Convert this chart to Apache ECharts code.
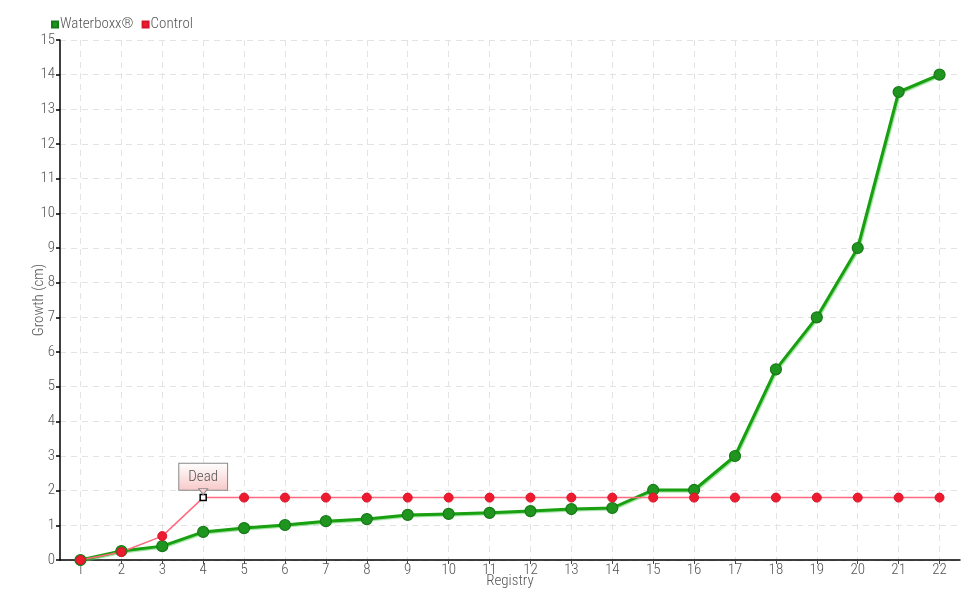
<!DOCTYPE html>
<html><head><meta charset="utf-8">
<script src="https://cdn.jsdelivr.net/npm/echarts@6/dist/echarts.min.js"></script>
<style>html,body{margin:0;padding:0;background:#fff}#c{width:980px;height:600px}</style>
</head><body><div id="c"></div>
<script>
const categories = ['1','2','3','4','5','6','7','8','9','10','11','12','13','14','15','16','17','18','19','20','21','22'];
const waterboxx = [0, 0.26, 0.4, 0.81, 0.92, 1.01, 1.12, 1.18, 1.3, 1.33, 1.36, 1.41, 1.47, 1.5, 2.02, 2.02, 3.0, 5.5, 7.0, 9.0, 13.5, 14.0];
const control = [0, 0.23, 0.69, 1.8, 1.8, 1.8, 1.8, 1.8, 1.8, 1.8, 1.8, 1.8, 1.8, 1.8, 1.8, 1.8, 1.8, 1.8, 1.8, 1.8, 1.8, 1.8];
const deadIndex = 3;
const deadLabel = 'Dead';

const FONT = '"Roboto Condensed", "DejaVu Sans Condensed", sans-serif';
const FW = 300;
const TXT = '#555';
const chart = echarts.init(document.getElementById('c'), null, {renderer: 'canvas'});

const controlData = control.map((v, i) => i === deadIndex ? {
  value: v,
  symbol: 'rect', symbolSize: 6,
  itemStyle: {color: '#fff', borderColor: '#000', borderWidth: 1.5},
  label: {
    show: true, position: 'top', distance: 4, formatter: deadLabel,
    color: TXT, fontFamily: FONT, fontWeight: FW, fontSize: 15,
    padding: [6, 9, 5, 9],
    borderColor: '#888', borderWidth: 1,
    backgroundColor: new echarts.graphic.LinearGradient(0, 0, 0, 1, [
      {offset: 0, color: '#ffffff'}, {offset: 1, color: '#f8c8c8'}
    ])
  }
} : v);

chart.setOption({
  animation: false,
  textStyle: {fontFamily: FONT},
  legend: {
    left: 46, top: 12, itemWidth: 6, itemHeight: 6, itemGap: 8,
    icon: 'rect',
    textStyle: {color: TXT, fontSize: 15, fontWeight: FW, fontFamily: FONT, padding: [0, 0, 0, -3]},
    data: ['Waterboxx®', 'Control']
  },
  grid: {left: 60, right: 20, top: 40, bottom: 40},
  xAxis: {
    type: 'category', data: categories, boundaryGap: true,
    name: 'Registry', nameLocation: 'middle', nameGap: 14, nameMoveOverlap: false,
    nameTextStyle: {color: TXT, fontSize: 15, fontWeight: FW, fontFamily: FONT},
    axisLine: {lineStyle: {color: '#000', width: 1.5}},
    axisTick: {show: true, alignWithLabel: true, length: 4, lineStyle: {color: '#444', width: 1}},
    axisLabel: {color: TXT, fontSize: 15, fontWeight: FW, fontFamily: FONT, margin: 3},
    splitLine: {show: true, alignWithLabel: true, lineStyle: {color: '#e3e3e3', type: [6, 5], width: 1}}
  },
  yAxis: {
    type: 'value', min: 0, max: 15, interval: 1,
    name: 'Growth (cm)', nameLocation: 'middle', nameGap: 13, nameMoveOverlap: false,
    nameTextStyle: {color: TXT, fontSize: 15, fontWeight: FW, fontFamily: FONT},
    axisLine: {show: true, lineStyle: {color: '#000', width: 1.5}},
    axisTick: {show: true, length: 4, lineStyle: {color: '#000', width: 1.5}},
    axisLabel: {color: TXT, fontSize: 15, fontWeight: FW, fontFamily: FONT, margin: 5},
    splitLine: {show: true, lineStyle: {color: '#e3e3e3', type: [6, 5], width: 1}}
  },
  series: [
    {
      name: 'Waterboxx®', type: 'line', data: waterboxx,
      symbol: 'circle', symbolSize: 11,
      color: '#1f9a1f',
      lineStyle: {color: '#18a010', width: 3, shadowColor: 'rgba(80,200,80,0.6)', shadowBlur: 1, shadowOffsetX: 1, shadowOffsetY: 1},
      itemStyle: {color: '#1f941f', borderColor: '#167a16', borderWidth: 1.2}
    },
    {
      name: 'Control', type: 'line', data: controlData,
      symbol: 'circle', symbolSize: 9,
      color: '#ee1b2e',
      lineStyle: {color: '#ff6a7e', width: 1.5},
      itemStyle: {color: '#ee1b2e', borderColor: '#d8142a', borderWidth: 1},
      markPoint: {
        silent: true,
        data: [{
          coord: [deadIndex, control[deadIndex]],
          symbol: 'triangle', symbolRotate: 180, symbolSize: [9, 6], symbolOffset: [0, -6],
          itemStyle: {color: '#f8cccc', borderColor: '#888', borderWidth: 1},
          label: {show: false}
        }]
      }
    }
  ]
});
</script></body></html>
